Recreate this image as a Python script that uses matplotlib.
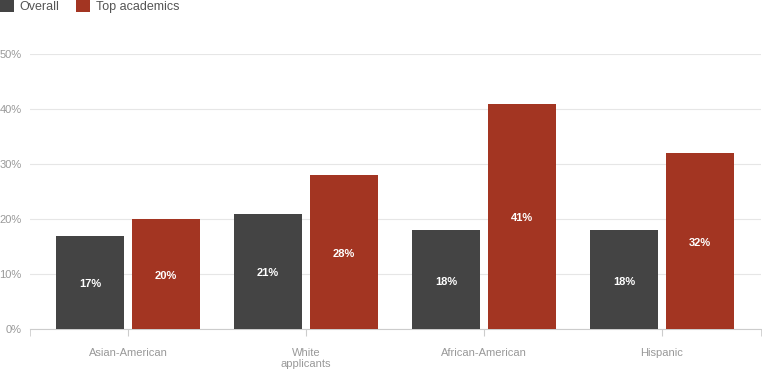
import matplotlib.pyplot as plt
import numpy as np

plt.rcParams['font.family'] = ['Liberation Sans', 'DejaVu Sans']

groups = ['Asian-American', 'White\napplicants', 'African-American', 'Hispanic']
overall = [17, 21, 18, 18]
top_academics = [20, 28, 41, 32]
series_names = ['Overall', 'Top academics']

dark = '#444444'
red = '#a33522'

fig = plt.figure(figsize=(7.62, 3.70), dpi=100)
ax = fig.add_axes([30/762, 41/370, 731/762, 275/370])

x = np.arange(len(groups))
w = 0.382
off = 0.213
b1 = ax.bar(x - off, overall, w, color=dark, zorder=3)
b2 = ax.bar(x + off, top_academics, w, color=red, zorder=3)

for bars, vals in [(b1, overall), (b2, top_academics)]:
    for rect, v in zip(bars, vals):
        ax.text(rect.get_x() + rect.get_width()/2, v/2 - 0.4, '%d%%' % v,
                ha='center', va='center', color='white', fontsize=8, fontweight='bold', zorder=4)

ax.set_xlim(-0.551, 3.556)
ax.set_ylim(0, 50)
ax.set_yticks(np.arange(0, 51, 10))
ax.set_yticklabels(['%d%%' % v for v in range(0, 51, 10)])
ax.set_xticks(x)
ax.set_xticklabels(groups, linespacing=1.1)
ax.set_xticks([-0.551, 3.556], minor=True)

ax.yaxis.grid(True, color='#e6e6e6', linewidth=0.8, zorder=0)
for s in ['top', 'right', 'left']:
    ax.spines[s].set_visible(False)
ax.spines['bottom'].set_color('#cccccc')
ax.tick_params(axis='y', length=0, pad=6, labelsize=8, labelcolor='#999999')
ax.tick_params(axis='x', which='both', length=5, color='#cccccc', pad=9,
               labelsize=8, labelcolor='#999999')
ax.tick_params(axis='x', which='minor', length=5)

fig.legend([b1, b2], series_names, loc='upper left', bbox_to_anchor=(-0.015, 1.03),
           ncol=2, frameon=False, fontsize=9, handlelength=1.1, handleheight=1.1,
           handletextpad=0.5, columnspacing=1.3, labelcolor='#555555')

plt.savefig('out.png', dpi=100)
